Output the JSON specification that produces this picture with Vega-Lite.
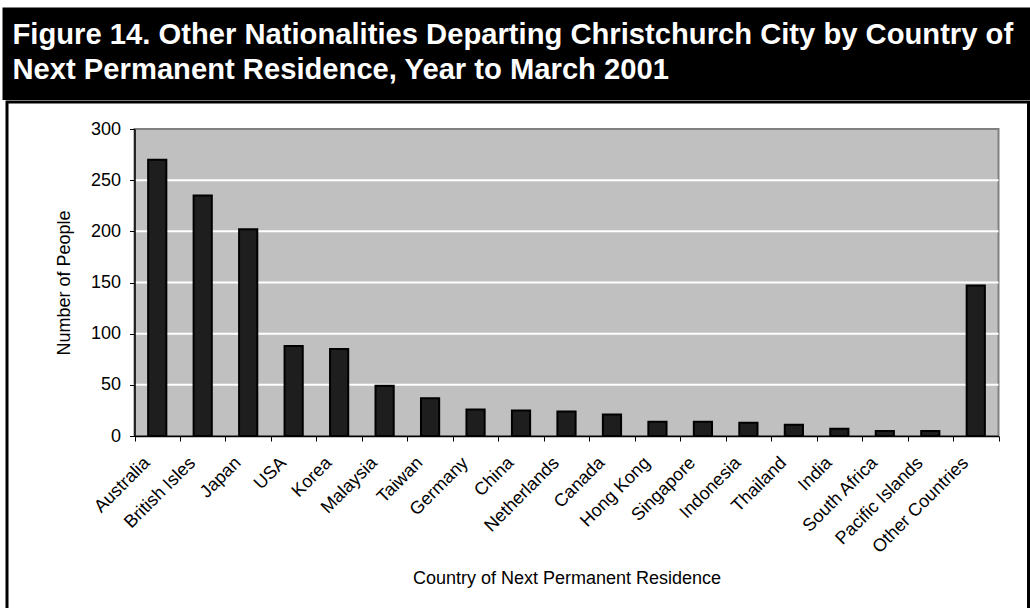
{
  "$schema": "https://vega.github.io/schema/vega-lite/v6.json",
  "background": "white",
  "padding": {"left": 2, "top": 7, "right": 0, "bottom": 0},
  "spacing": 0,
  "config": {
    "font": "Liberation Sans",
    "axis": {
      "labelFont": "Liberation Sans",
      "titleFont": "Liberation Sans",
      "labelColor": "black",
      "titleColor": "black",
      "labelFontSize": 18,
      "titleFontSize": 18,
      "titleFontWeight": "normal",
      "domainColor": "black",
      "tickColor": "black",
      "grid": false
    }
  },
  "datasets": {
    "countries": [
      {"country": "Australia", "people": 270},
      {"country": "British Isles", "people": 235},
      {"country": "Japan", "people": 202},
      {"country": "USA", "people": 88},
      {"country": "Korea", "people": 85},
      {"country": "Malaysia", "people": 49},
      {"country": "Taiwan", "people": 37},
      {"country": "Germany", "people": 26},
      {"country": "China", "people": 25},
      {"country": "Netherlands", "people": 24},
      {"country": "Canada", "people": 21},
      {"country": "Hong Kong", "people": 14},
      {"country": "Singapore", "people": 14},
      {"country": "Indonesia", "people": 13},
      {"country": "Thailand", "people": 11},
      {"country": "India", "people": 7},
      {"country": "South Africa", "people": 5},
      {"country": "Pacific Islands", "people": 5},
      {"country": "Other Countries", "people": 147}
    ],
    "box": [{"x0": 0, "x1": 19, "y0": 0, "y1": 300}],
    "grid": [
      {"x0": 0, "x1": 19, "v": 50},
      {"x0": 0, "x1": 19, "v": 100},
      {"x0": 0, "x1": 19, "v": 150},
      {"x0": 0, "x1": 19, "v": 200},
      {"x0": 0, "x1": 19, "v": 250}
    ],
    "header": [{"t": ""}]
  },
  "vconcat": [
    {
      "width": 1021.5,
      "height": 83.5,
      "view": {"fill": "black", "stroke": "black", "strokeWidth": 9},
      "title": {
        "text": ["Figure 14. Other Nationalities Departing Christchurch City by Country of", "Next Permanent Residence, Year to March 2001"],
        "anchor": "start",
        "frame": "group",
        "orient": "bottom",
        "baseline": "top",
        "offset": -75,
        "dx": 5.5,
        "color": "white",
        "font": "Liberation Sans",
        "fontWeight": "bold",
        "fontSize": 29.2,
        "lineHeight": 35
      },
      "data": {"name": "header"},
      "mark": {"type": "text", "text": ""}
    },
    {
      "width": 1021.5,
      "height": 510,
      "view": {"fill": "white", "stroke": "black", "strokeWidth": 3},
      "resolve": {"scale": {"x": "independent"}, "axis": {"x": "independent"}},
      "layer": [
        {
          "data": {"name": "box"},
          "mark": {"type": "rect", "fill": "#C0C0C0", "stroke": "#808080", "strokeWidth": 2},
          "encoding": {
            "x": {
              "field": "x0", "type": "quantitative",
              "scale": {"domain": [0, 19], "range": [127.5, 991.5], "nice": false, "zero": false},
              "axis": {"orient": "bottom", "offset": -176, "values": [0,1,2,3,4,5,6,7,8,9,10,11,12,13,14,15,16,17,18,19], "labels": false, "domain": false, "ticks": true, "tickSize": 5, "tickWidth": 1, "title": null, "zindex": 1}
            },
            "x2": {"field": "x1"},
            "y": {
              "field": "y0", "type": "quantitative",
              "scale": {"domain": [0, 300], "range": [334, 27], "nice": false},
              "title": "Number of People",
              "axis": {"orient": "left", "offset": -127.5, "values": [0, 50, 100, 150, 200, 250, 300], "tickSize": 5, "tickWidth": 1, "domainWidth": 1.5, "labelPadding": 9, "titlePadding": 17, "zindex": 1}
            },
            "y2": {"field": "y1"}
          }
        },
        {
          "data": {"name": "grid"},
          "mark": {"type": "rule", "color": "white", "strokeWidth": 2},
          "encoding": {
            "x": {"field": "x0", "type": "quantitative", "scale": {"domain": [0, 19], "range": [127.5, 991.5], "nice": false, "zero": false}, "axis": null},
            "x2": {"field": "x1"},
            "y": {"field": "v", "type": "quantitative", "title": "Number of People"}
          }
        },
        {
          "data": {"name": "countries"},
          "mark": {"type": "bar", "fill": "#1e1e1e", "stroke": "black", "strokeWidth": 2},
          "encoding": {
            "x": {
              "field": "country", "type": "nominal", "sort": null,
              "scale": {"range": [127.5, 991.5], "paddingInner": 0.6, "paddingOuter": 0.3},
              "title": "Country of Next Permanent Residence",
              "axis": {"orient": "bottom", "offset": -176, "ticks": false, "domain": true, "domainWidth": 1.5, "labelAngle": -45, "labelAlign": "right", "labelBaseline": "middle", "labelPadding": 24, "labelOffset": -10, "titlePadding": 13, "zindex": 1}
            },
            "y": {"field": "people", "type": "quantitative", "title": "Number of People"}
          }
        }
      ]
    }
  ]
}
